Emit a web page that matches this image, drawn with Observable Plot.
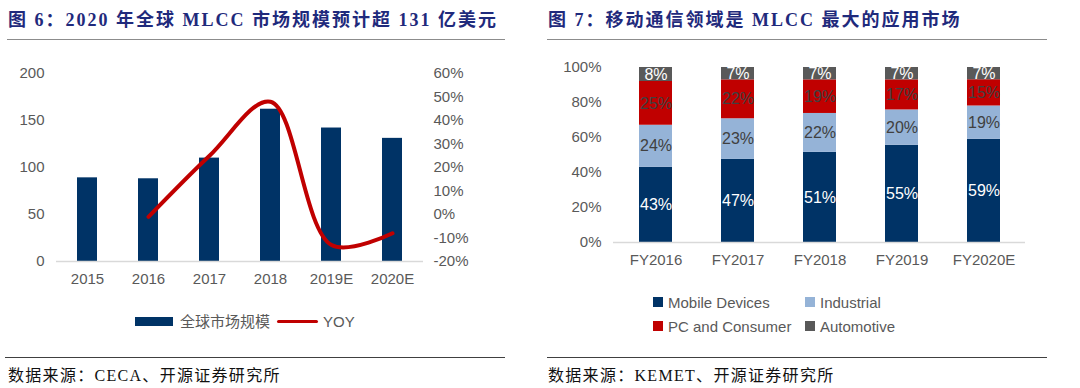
<!DOCTYPE html>
<html><head><meta charset="utf-8">
<script src="https://cdn.jsdelivr.net/npm/d3@7"></script>
<script src="https://cdn.jsdelivr.net/npm/@observablehq/plot@0.6"></script>
<style>
body{margin:0;background:#fff;width:1080px;height:388px;overflow:hidden;position:relative;font-family:"Liberation Sans",Arial,"Noto Sans CJK SC",sans-serif;}
.abs{position:absolute;}
.title{position:absolute;font-family:"Liberation Serif","Noto Sans CJK SC",serif;font-weight:bold;font-size:18px;line-height:18px;letter-spacing:2px;color:#1f2a7c;white-space:nowrap;}
.rule{position:absolute;height:0;}
.src{position:absolute;font-family:"Liberation Serif","Noto Sans CJK SC",serif;font-size:16px;line-height:16px;letter-spacing:1.3px;color:#111;white-space:nowrap;}
.leg{position:absolute;font-size:15px;line-height:15px;color:#595959;white-space:nowrap;}
.sw{position:absolute;}
</style></head><body>
<div class="title" style="left:8px;top:11px">图 6：2020 年全球 MLCC 市场规模预计超 131 亿美元</div>
<div class="rule" style="left:7px;width:498px;top:39px;border-top:1.5px solid #8c8c8c"></div>
<div class="title" style="left:548px;top:11px">图 7：移动通信领域是 MLCC 最大的应用市场</div>
<div class="rule" style="left:547px;width:500px;top:39px;border-top:1.5px solid #8c8c8c"></div>

<div id="left" class="abs" style="left:0;top:55px"></div>
<div id="right" class="abs" style="left:540px;top:50px"></div>

<div class="sw" style="left:135px;top:317px;width:38px;height:9px;background:#003366"></div>
<div class="leg" style="left:180px;top:314px">全球市场规模</div>
<div class="sw" style="left:277px;top:320px;width:41px;height:3px;border-radius:2px;background:#c00000"></div>
<div class="leg" style="left:323px;top:314px">YOY</div>

<div class="sw" style="left:653px;top:297px;width:10px;height:10px;background:#003366"></div>
<div class="leg" style="left:668px;top:295px">Mobile Devices</div>
<div class="sw" style="left:805px;top:297px;width:10px;height:10px;background:#95b3d7"></div>
<div class="leg" style="left:820px;top:295px">Industrial</div>
<div class="sw" style="left:653px;top:321px;width:10px;height:10px;background:#c00000"></div>
<div class="leg" style="left:668px;top:319px">PC and Consumer</div>
<div class="sw" style="left:805px;top:321px;width:10px;height:10px;background:#595959"></div>
<div class="leg" style="left:820px;top:319px">Automotive</div>

<div class="rule" style="left:5px;width:500px;top:357px;border-top:1.5px solid #404040"></div>
<div class="src" style="left:8px;top:368px">数据来源：CECA、开源证券研究所</div>
<div class="rule" style="left:547px;width:500px;top:357px;border-top:1.5px solid #404040"></div>
<div class="src" style="left:548px;top:368px">数据来源：KEMET、开源证券研究所</div>

<script>
// ---- Figure 6 data ----
const years = ["2015", "2016", "2017", "2018", "2019E", "2020E"];
const marketSize = [89, 88, 110, 162, 142, 131];
const yoy = [null, -1, 25, 48, -13, -8];
const leftTicks = [0, 50, 100, 150, 200];
const yoyTicks = [-20, -10, 0, 10, 20, 30, 40, 50, 60];

// ---- Figure 7 data ----
const fiscalYears = ["FY2016", "FY2017", "FY2018", "FY2019", "FY2020E"];
const segments = ["Mobile Devices", "Industrial", "PC and Consumer", "Automotive"];
const mobile = [43, 47, 51, 55, 59];
const industrial = [24, 23, 22, 20, 19];
const pcConsumer = [25, 22, 19, 17, 15];
const automotive = [8, 7, 7, 7, 7];
const shareTicks = [0, 20, 40, 60, 80, 100];

const axisStyle = {fontFamily: "Liberation Sans, Arial, sans-serif", fontSize: "15px", color: "#595959", background: "transparent"};

// left chart: YOY mapped onto the left scale domain
const leftMax = 200, yoyMin = -20, yoyMax = 60;
const toLeft = v => (v - yoyMin) * leftMax / (yoyMax - yoyMin);
const fromLeft = d => d * (yoyMax - yoyMin) / leftMax + yoyMin;

const barRows = years.map((y, i) => ({year: y, v: marketSize[i]}));
const yoyRows = years.map((y, i) => ({year: y, r: yoy[i]})).filter(d => d.r != null);

const left = Plot.plot({
  width: 480, height: 240,
  marginLeft: 56, marginRight: 57, marginTop: 18, marginBottom: 34,
  style: axisStyle,
  x: {domain: years, paddingInner: 0.67, paddingOuter: 0.335, label: null},
  y: {domain: [0, leftMax], label: null},
  marks: [
    Plot.axisY({ticks: leftTicks, tickSize: 0, tickPadding: 12, label: null}),
    Plot.axisY({anchor: "right", ticks: yoyTicks.map(toLeft), tickFormat: d => Math.round(fromLeft(d)) + "%", tickSize: 0, tickPadding: 10, label: null}),
    Plot.axisX({tickSize: 0, tickPadding: 12, label: null}),
    Plot.barY(barRows, {x: "year", y: "v", fill: "#003366"}),
    Plot.ruleY([0], {stroke: "#d9d9d9", strokeWidth: 1.5}),
    Plot.line(yoyRows, {x: "year", y: d => toLeft(d.r), stroke: "#c00000", strokeWidth: 4, curve: "catmull-rom", strokeLinecap: "round"})
  ]
});
document.getElementById("left").appendChild(left);

// right chart
const seriesVals = [mobile, industrial, pcConsumer, automotive];
const labelColor = {"Mobile Devices": "#ffffff", "Industrial": "#404040", "PC and Consumer": "#404040", "Automotive": "#ffffff"};
const shareRows = [];
segments.forEach((s, j) => fiscalYears.forEach((fy, i) => shareRows.push({fy, seg: s, v: seriesVals[j][i]})));

const right = Plot.plot({
  width: 500, height: 225,
  marginLeft: 73, marginRight: 15, marginTop: 17, marginBottom: 33,
  style: axisStyle,
  x: {domain: fiscalYears, paddingInner: 0.6, paddingOuter: 0.3, label: null},
  y: {domain: [0, 1], label: null},
  color: {domain: segments, range: ["#003366", "#95b3d7", "#c00000", "#595959"]},
  marks: [
    Plot.axisY({ticks: shareTicks.map(t => t / 100), tickFormat: d => Math.round(d * 100) + "%", tickSize: 0, tickPadding: 12, label: null}),
    Plot.axisX({tickSize: 0, tickPadding: 12, label: null}),
    Plot.barY(shareRows, Plot.stackY({offset: "normalize", x: "fy", y: "v", fill: "seg"})),
    Plot.ruleY([0], {stroke: "#d9d9d9", strokeWidth: 1.5}),
    Plot.text(shareRows, Plot.stackY({offset: "normalize", x: "fy", y: "v", z: "seg", text: d => d.v + "%", fill: d => labelColor[d.seg], fontSize: 16}))
  ]
});
document.getElementById("right").appendChild(right);
</script>
</body></html>
